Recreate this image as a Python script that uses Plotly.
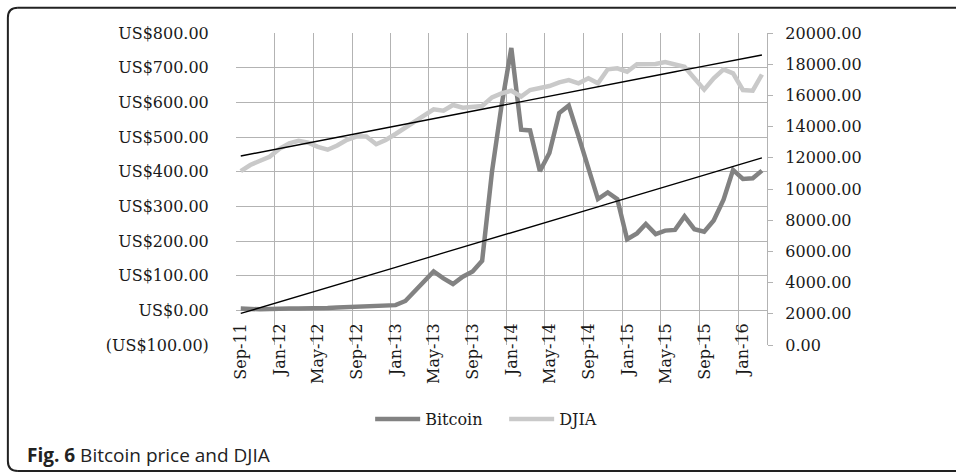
import numpy as np
import pandas as pd
import plotly.graph_objects as go

# ---- data (monthly, Sep-11 .. Mar-16) ----
start_month = "2011-09-01"
n_months = 55
months = pd.date_range(start_month, periods=n_months, freq="MS") + pd.Timedelta(days=15)

bitcoin = [5, 3.5, 3, 4, 5.5, 5, 5, 5, 5.2, 6.5, 8.5, 10, 12, 11.5, 12, 13.5,
           15, 27, 54, 83, 112, 92, 76, 97, 112, 143, 400, 590, 757, 521, 519,
           401, 454, 569, 591, 502, 405, 321, 340, 321, 205, 222, 249, 220, 230,
           232, 271, 234, 227, 259, 319, 405, 379, 381, 403]

djia = [11150, 11538, 11814, 12070, 12580, 12929, 13090, 12967, 12700, 12520,
        12790, 13150, 13380, 13370, 12870, 13140, 13525, 13929, 14314, 14679,
        15108, 15019, 15384, 15211, 15265, 15320, 15877, 16134, 16301, 15930,
        16346, 16455, 16602, 16839, 16987, 16774, 17096, 16774, 17672, 17736,
        17519, 17993, 17993, 18012, 18141, 17993, 17839, 17096, 16370, 17096,
        17672, 17416, 16346, 16301, 17340]

btc_tickvals = [-100, 0, 100, 200, 300, 400, 500, 600, 700, 800]
btc_ticktext = ["(US$100.00)", "US$0.00", "US$100.00", "US$200.00", "US$300.00",
                "US$400.00", "US$500.00", "US$600.00", "US$700.00", "US$800.00"]
btc_range = [-100, 800]
djia_range = [0, 20000]
djia_step = 2000
x_range = ["2011-09-01", "2016-04-01"]
legend_names = ["Bitcoin", "DJIA"]
caption_bold = "Fig. 6"
caption_text = "Bitcoin price and DJIA"

# ---- linear trendlines (least squares on month index) ----
idx = np.arange(n_months)
bc = np.polyfit(idx, bitcoin, 1)
dc = np.polyfit(idx, djia, 1)
btc_trend = np.polyval(bc, idx)
djia_trend = np.polyval(dc, idx)

# ---- layout geometry ----
W, H = 956, 473
L, R, T, B = 236, 956 - 766.7, 33.3, 473 - 345
pw, ph = W - L - R, H - T - B

def px(xp):
    return (xp - L) / pw

def py(yp):
    return (H - B - yp) / ph

FONT = "DejaVu Serif"
TXT = "#1a1a1a"
GRID = "#b3b3b3"
BTC_COL = "#828282"
DJIA_COL = "#c9c9c9"
FRAME = "#222222"

fig = go.Figure()
fig.add_trace(go.Scatter(x=months, y=bitcoin, name=legend_names[0], mode="lines",
                         line=dict(color=BTC_COL, width=4.5), yaxis="y"))
fig.add_trace(go.Scatter(x=months, y=btc_trend, mode="lines", showlegend=False,
                         line=dict(color="#000000", width=1.4), yaxis="y"))
fig.add_trace(go.Scatter(x=months, y=djia, name=legend_names[1], mode="lines",
                         line=dict(color=DJIA_COL, width=4.5), yaxis="y2"))
fig.add_trace(go.Scatter(x=months, y=djia_trend, mode="lines", showlegend=False,
                         line=dict(color="#000000", width=1.4), yaxis="y2"))

# pixel distance of the value-0 line above the plot bottom (x labels hang from it)
zero_offset = (0 - btc_range[0]) / (btc_range[1] - btc_range[0]) * ph

# border frame: left side with rounded corners, top and bottom running off the right edge
fx0, fx1 = px(8), px(960)
fy0, fy1 = py(471), py(8)
rx, ry = 10 / pw, 10 / ph
left_side = (f"M {fx0 + rx},{fy1} Q {fx0},{fy1} {fx0},{fy1 - ry} "
             f"L {fx0},{fy0 + ry} Q {fx0},{fy0} {fx0 + rx},{fy0}")
frame_shapes = [
    dict(type="path", xref="paper", yref="paper", path=left_side,
         line=dict(color=FRAME, width=2), layer="above"),
    dict(type="line", xref="paper", yref="paper", x0=fx0 + rx, x1=fx1,
         y0=fy1, y1=fy1, line=dict(color=FRAME, width=2), layer="above"),
    dict(type="line", xref="paper", yref="paper", x0=fx0 + rx, x1=fx1,
         y0=fy0, y1=fy0, line=dict(color=FRAME, width=2), layer="above"),
]

fig.update_layout(
    width=W, height=H,
    margin=dict(l=L, r=R, t=T, b=B, pad=0, autoexpand=False),
    paper_bgcolor="white", plot_bgcolor="white",
    font=dict(family=FONT, size=16, color=TXT),
    showlegend=True,
    legend=dict(orientation="h", x=px(504), y=py(419), xanchor="center",
                yanchor="middle", font=dict(family=FONT, size=16, color=TXT),
                itemwidth=45, entrywidth=74, entrywidthmode="pixels",
                bgcolor="rgba(0,0,0,0)", traceorder="normal"),
    xaxis=dict(type="date", range=x_range, tick0=x_range[0], dtick="M4",
               tickformat="%b-%y", tickangle=-90, showgrid=True, gridcolor=GRID,
               gridwidth=1.3, ticks="", showline=False, zeroline=False,
               automargin=False,
               ticklabelstandoff=-int(round(zero_offset - 9)), ticklabelshift=5,
               tickfont=dict(family=FONT, size=16, color=TXT)),
    yaxis=dict(range=btc_range, tickmode="array", tickvals=btc_tickvals,
               ticktext=btc_ticktext, showgrid=True, gridcolor=GRID,
               gridwidth=1.3, griddash="solid", zeroline=False,
               showline=False, ticks="outside", ticklen=23,
               tickcolor="rgba(0,0,0,0)", automargin=False,
               tickfont=dict(family=FONT, size=16, color=TXT)),
    yaxis2=dict(range=djia_range, dtick=djia_step, tick0=0, tickformat=".2f",
                overlaying="y", side="right", showgrid=False, zeroline=False,
                showline=True, linecolor=GRID, linewidth=1.3, ticks="outside",
                ticklen=5, tickcolor=GRID, tickwidth=1.3, ticklabelstandoff=9,
                automargin=False,
                tickfont=dict(family=FONT, size=16, color=TXT)),
    shapes=frame_shapes,
    annotations=[dict(xref="paper", yref="paper", x=px(25), y=py(455),
                      xanchor="left", yanchor="middle", showarrow=False,
                      text=f"<b>{caption_bold}</b> {caption_text}",
                      font=dict(family="Open Sans", size=19, color="#222222"))],
)

fig.write_html("out.html", config={"displayModeBar": False},
               post_script="document.body.style.margin='0';"
                           "document.body.style.overflow='hidden';")
